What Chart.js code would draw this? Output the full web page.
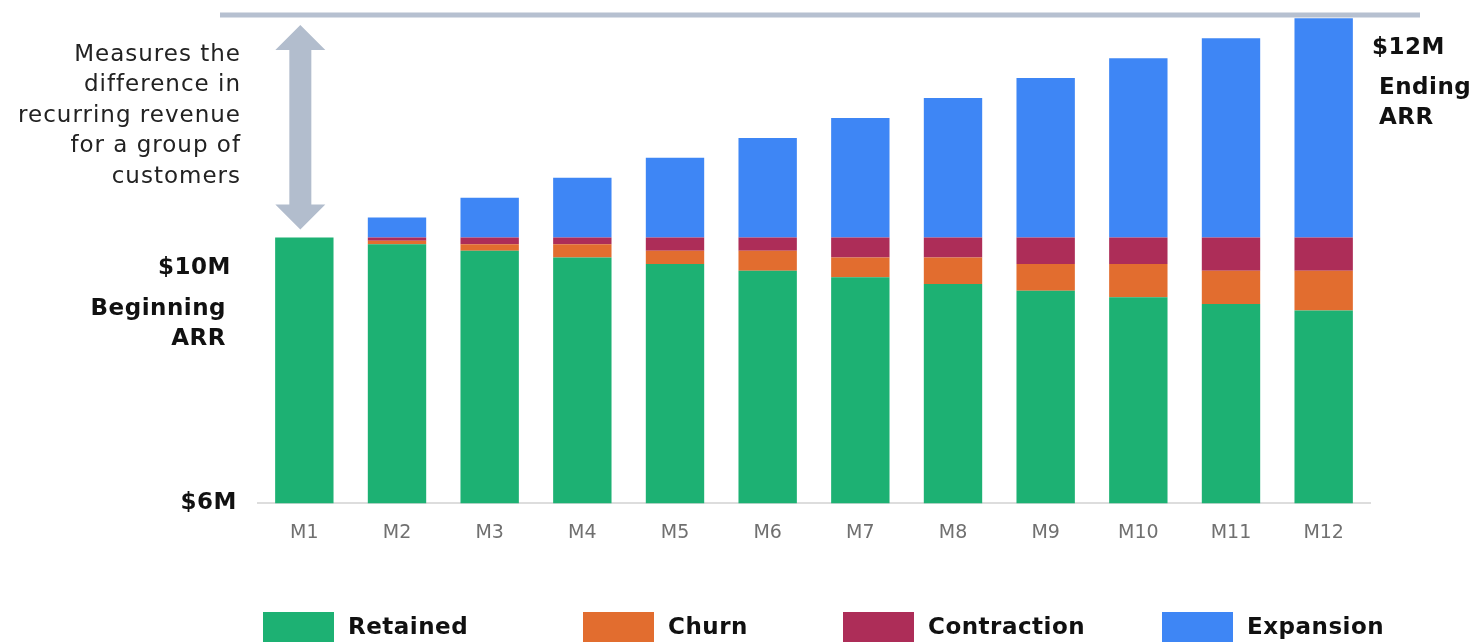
<!DOCTYPE html>
<html>
<head>
<meta charset="utf-8">
<script src="https://cdn.jsdelivr.net/npm/chart.js@4/dist/chart.umd.min.js"></script>
<style>
html,body{margin:0;padding:0;background:#fff;}
#wrap{position:relative;width:1474px;height:642px;}
</style>
</head>
<body>
<div id="wrap"><canvas id="c" width="1474" height="642"></canvas></div>
<script>
const months = ['M1','M2','M3','M4','M5','M6','M7','M8','M9','M10','M11','M12'];
const retained    = [10.0, 9.9, 9.8, 9.7, 9.6, 9.5, 9.4, 9.3, 9.2, 9.1, 9.0, 8.9];
const churn       = [0, 0.05, 0.1, 0.2, 0.2, 0.3, 0.3, 0.4, 0.4, 0.5, 0.5, 0.6];
const contraction = [0, 0.05, 0.1, 0.1, 0.2, 0.2, 0.3, 0.3, 0.4, 0.4, 0.5, 0.5];
const expansion   = [0, 0.3, 0.6, 0.9, 1.2, 1.5, 1.8, 2.1, 2.4, 2.7, 3.0, 3.3];
const seriesNames = ['Retained','Churn','Contraction','Expansion'];
const seriesColors = ['#1db173','#e26d2f','#ad2d58','#3e86f5'];
const yMin = 6, yMax = 13.35;
const noteLines = ['Measures the','difference in','recurring revenue','for a group of','customers'];

const FONT = '"DejaVu Sans", Inter, sans-serif';

const annot = {
  id:'annot',
  afterDatasetsDraw(chart){
    const {ctx, chartArea, scales:{x,y}} = chart;
    ctx.save();
    const topY = y.getPixelForValue(yMax);
    ctx.fillStyle = '#b6c0d0';
    ctx.fillRect(220, topY - 2.5, 1200, 5);
    const ax = x.getPixelForValue(0) - 4;
    const aTop = topY + 10, aBot = y.getPixelForValue(10) - 8;
    ctx.fillStyle = '#b2bdcd';
    ctx.beginPath();
    ctx.moveTo(ax, aTop);
    ctx.lineTo(ax + 25, aTop + 25);
    ctx.lineTo(ax + 11, aTop + 25);
    ctx.lineTo(ax + 11, aBot - 25);
    ctx.lineTo(ax + 25, aBot - 25);
    ctx.lineTo(ax, aBot);
    ctx.lineTo(ax - 25, aBot - 25);
    ctx.lineTo(ax - 11, aBot - 25);
    ctx.lineTo(ax - 11, aTop + 25);
    ctx.lineTo(ax - 25, aTop + 25);
    ctx.closePath();
    ctx.fill();
    ctx.fillStyle = '#222';
    ctx.textAlign = 'right';
    ctx.textBaseline = 'middle';
    ctx.font = '400 23px ' + FONT;
    ctx.letterSpacing = '1px';
    noteLines.forEach((t,i)=>ctx.fillText(t, 241, 55 + i*30.5));
    ctx.font = '700 23px ' + FONT;
    ctx.letterSpacing = '0.5px';
    ctx.fillStyle = '#111';
    const y10 = y.getPixelForValue(10);
    ctx.fillText('$10M', 231, y10 + 31);
    ctx.fillText('Beginning', 226, y10 + 72);
    ctx.fillText('ARR', 226, y10 + 102);
    ctx.fillText('$6M', 237, y.getPixelForValue(6));
    ctx.textAlign = 'left';
    ctx.fillText('$12M', 1372, 48);
    ctx.fillText('Ending', 1379, 88);
    ctx.fillText('ARR', 1379, 118);
    const legX = [263, 583, 843, 1162];
    seriesNames.forEach((n,i)=>{
      ctx.fillStyle = seriesColors[i];
      ctx.fillRect(legX[i], 612, 71, 32);
      ctx.fillStyle = '#111';
      ctx.fillText(n, legX[i] + 85, 628);
    });
    ctx.restore();
  }
};

const data = {
  labels: months,
  datasets: [retained, churn, contraction, expansion].map((d,i)=>({
    label: seriesNames[i],
    data: d,
    backgroundColor: seriesColors[i],
    borderWidth: 0,
    categoryPercentage: 1,
    barPercentage: 0.63
  }))
};

new Chart(document.getElementById('c'), {
  type: 'bar',
  data,
  plugins: [annot],
  options: {
    responsive: false,
    animation: false,
    layout: { padding: { left: 258, right: 104, top: 15, bottom: 80 } },
    plugins: { legend: { display: false }, tooltip: { enabled: false } },
    scales: {
      x: {
        stacked: true,
        grid: { display: false, drawTicks: false },
        border: { display: true, color: '#dddddd', width: 2 },
        ticks: { color: '#707070', font: { family: FONT, size: 19 }, padding: 18 }
      },
      y: {
        stacked: true,
        display: false,
        min: yMin,
        max: yMax
      }
    }
  }
});
</script>
</body>
</html>
